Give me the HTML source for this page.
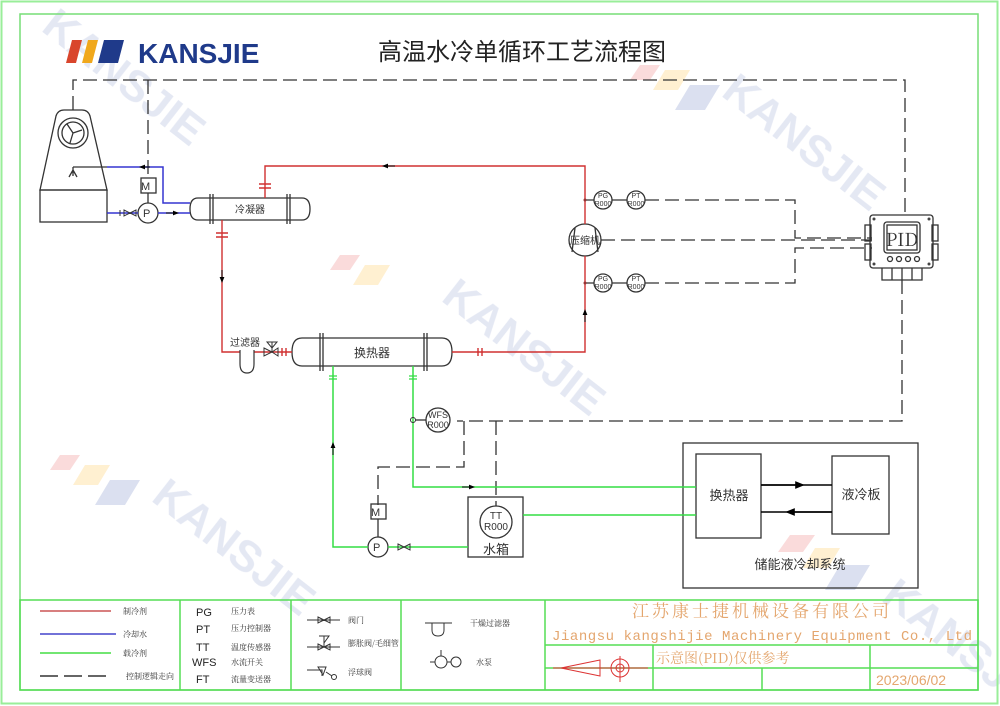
<!DOCTYPE html>
<html><head><meta charset="utf-8"><style>
html,body{margin:0;padding:0;background:#fff}
svg{display:block;font-family:"Liberation Sans","Noto Sans CJK SC",sans-serif}
.s{font-family:"Noto Serif CJK SC","Liberation Serif",serif}
</style></head><body>
<svg width="1000" height="706" viewBox="0 0 1000 706" xmlns="http://www.w3.org/2000/svg">
<defs>
<marker id="ah" viewBox="0 0 10 10" refX="5" refY="5" markerWidth="6" markerHeight="6" orient="auto"><path d="M0,1 L10,5 L0,9z" fill="#000"/></marker>
</defs>
<!-- watermarks -->
<g fill="#d3d9ec" font-size="44" font-weight="bold" opacity="0.6">
<text x="40" y="30" transform="rotate(38 40 30)">KANSJIE</text>
<text x="720" y="95" transform="rotate(38 720 95)">KANSJIE</text>
<text x="440" y="300" transform="rotate(38 440 300)">KANSJIE</text>
<text x="150" y="500" transform="rotate(38 150 500)">KANSJIE</text>
<text x="880" y="600" transform="rotate(38 880 600)">KANSJIE</text>
</g>
<g opacity="0.3">
<polygon points="640,65 660,65 650,80 630,80" fill="#e88"/><polygon points="665,70 690,70 678,90 653,90" fill="#fc6"/><polygon points="690,85 720,85 705,110 675,110" fill="#89c"/>
<polygon points="340,255 360,255 350,270 330,270" fill="#e88"/><polygon points="365,265 390,265 378,285 353,285" fill="#fc6"/>
<polygon points="60,455 80,455 70,470 50,470" fill="#e88"/><polygon points="85,465 110,465 98,485 73,485" fill="#fc6"/><polygon points="110,480 140,480 125,505 95,505" fill="#89c"/>
<polygon points="790,535 815,535 803,552 778,552" fill="#e88"/><polygon points="815,548 840,548 828,568 803,568" fill="#fc6"/><polygon points="840,565 870,565 855,590 825,590" fill="#89c"/>
</g>
<!-- frames -->
<rect x="1.5" y="1.5" width="996" height="702" fill="none" stroke="#9e9" stroke-width="2"/>
<rect x="20" y="14" width="958" height="676" fill="none" stroke="#7d7" stroke-width="1.5"/>
<!-- logo -->
<polygon points="72,40 82,40 76,63 66,63" fill="#d9452c"/>
<polygon points="88,40 98,40 92,63 82,63" fill="#f0a81c"/>
<polygon points="104,40 124,40 118,63 98,63" fill="#1f3a8a"/>
<text x="138" y="63" font-size="28" font-weight="bold" fill="#1f3a8a">KANSJIE</text>
<text x="378" y="60" font-size="24" fill="#222">高温水冷单循环工艺流程图</text>

<g fill="none" stroke="#333" stroke-width="1.3">
<!-- control dashed -->
<g stroke-dasharray="14,6">
<path d="M73,110 V80 H905 V215"/>
<path d="M148,80 V178"/>
<path d="M645,200 H795 V238 H872"/>
<path d="M601,240 H872"/>
<path d="M645,283 H795 V248 H872"/>
<path d="M902,280 V421 H457"/>
<path d="M464,421 V467 H378 V505"/>
<path d="M496,421 V506"/>
</g>
<!-- cooling tower -->
<path d="M40,190 L56,116 Q58,110 64,110 H82 Q88,110 90,116 L107,190 Z"/>
<rect x="40" y="190" width="67" height="32"/>
<circle cx="73" cy="133" r="15"/>
<circle cx="73" cy="133" r="11"/>
<path d="M73,133 L67,124 M73,133 L82,130 M73,133 L70,143"/>
<path d="M73,167 V176 M73,170 L69,177 M73,170 L77,177 M73,167 H107"/>
<!-- M and P -->
<rect x="141" y="178" width="15" height="15"/>
<path d="M148,193 V203"/>
<circle cx="148" cy="213" r="10"/>
<rect x="371" y="504" width="15" height="15"/>
<path d="M378,519 V537"/>
<circle cx="378" cy="547" r="10"/>
<!-- condenser -->
<path d="M198,198 H302 Q310,198 310,209 Q310,220 302,220 H198 Q190,220 190,209 Q190,198 198,198Z"/>
<path d="M210,194 V224 M213,194 V224 M287,194 V224 M290,194 V224"/>
<!-- heat exchanger -->
<path d="M302,338 H442 Q452,338 452,352 Q452,366 442,366 H302 Q292,366 292,352 Q292,338 302,338Z"/>
<path d="M320,333 V371 M323,333 V371 M424,333 V371 M427,333 V371"/>
<!-- compressor -->
<circle cx="585" cy="240" r="16"/>
<path d="M575,228 L572,252 M595,228 L598,252"/>
<!-- gauges -->
<circle cx="603" cy="200" r="9"/><circle cx="636" cy="200" r="9"/>
<circle cx="603" cy="283" r="9"/><circle cx="636" cy="283" r="9"/>
<path d="M585,200 H594 M612,200 H627 M585,283 H594 M612,283 H627"/>
<!-- PID -->
<rect x="870" y="215" width="63" height="53" rx="3"/>
<rect x="884" y="222" width="36" height="31" rx="3"/>
<rect x="887" y="225" width="30" height="25"/>
<rect x="865" y="225" width="6" height="16"/><rect x="865" y="244" width="6" height="16"/>
<rect x="932" y="225" width="6" height="16"/><rect x="932" y="244" width="6" height="16"/>
<path d="M882,268 V280 H922 V268 M892,268 V280 M902,268 V280 M912,268 V280"/>
<circle cx="890" cy="259" r="2.5"/><circle cx="899" cy="259" r="2.5"/><circle cx="908" cy="259" r="2.5"/><circle cx="917" cy="259" r="2.5"/>
<!-- WFS -->
<circle cx="438" cy="420" r="12"/>
<path d="M415,420 H426"/>
<!-- tank -->
<rect x="468" y="497" width="55" height="60"/>
<circle cx="496" cy="522" r="16"/>
<!-- storage -->
<rect x="683" y="443" width="235" height="145"/>
<rect x="696" y="454" width="65" height="84"/>
<rect x="832" y="456" width="57" height="78"/>
</g>
<g fill="#444"><circle cx="874" cy="219" r="1.5"/><circle cx="929" cy="219" r="1.5"/><circle cx="874" cy="264" r="1.5"/><circle cx="929" cy="264" r="1.5"/></g>
<g stroke="#000" stroke-width="1.6" fill="none">
<path d="M761,485 H832"/>
<path d="M761,485 H800" marker-end="url(#ah)"/>
<path d="M832,512 H761"/><path d="M832,512 H790" marker-end="url(#ah)"/>
</g>

<!-- blue pipes -->
<g stroke="#3535d0" stroke-width="1.5" fill="none">
<path d="M107,167 H163 V203 H190"/>
<path d="M107,213 H138 M158,213 H190"/>
</g>
<path d="M150,167 H142" stroke="#000" marker-end="url(#ah)"/>
<path d="M166,213 H176" stroke="#000" marker-end="url(#ah)"/>
<path d="M120,210 V216 M124,210 l6,3 l-6,3z M136,210 l-6,3 l6,3z" stroke="#333" fill="none"/>
<!-- red pipes -->
<g stroke="#d03030" stroke-width="1.4" fill="none">
<path d="M265,198 V166 H585 V224"/>
<path d="M222,220 V352 H240 M254,352 H292"/>
<path d="M452,352 H585 V256"/>
</g>
<g stroke="#d03030" stroke-width="1.4"><path d="M259,184 H271 M259,188 H271 M216,233 H228 M216,237 H228 M282,348 V356 M286,348 V356 M478,348 V356 M482,348 V356"/></g>
<path d="M395,166 H385" stroke="#000" marker-end="url(#ah)"/>
<path d="M222,270 V280" stroke="#000" marker-end="url(#ah)"/>
<path d="M585,322 V312" stroke="#000" marker-end="url(#ah)"/>
<!-- filter & exp valve -->
<path d="M240,350 V364 Q240,373 247,373 Q254,373 254,364 V350" stroke="#333" fill="none" stroke-width="1.2"/>
<path d="M264,348 L272,352 L264,356z M278,348 L272,352 L278,356z M272,352 V342 M267,342 H277 L272,348z" stroke="#333" fill="none"/>
<!-- green pipes -->
<g stroke="#33dd44" stroke-width="1.5" fill="none">
<path d="M333,366 V547 H368"/>
<path d="M388,547 H468"/>
<path d="M413,366 V487 H696"/>
<path d="M523,515 H696"/>
</g>
<g stroke="#33dd44" stroke-width="1.3"><path d="M329,376 H337 M329,379 H337 M409,376 H417 M409,379 H417"/></g>
<path d="M333,455 V445" stroke="#000" marker-end="url(#ah)"/>
<path d="M462,487 H472" stroke="#000" marker-end="url(#ah)"/>
<path d="M398,544 l6,3 l-6,3z M410,544 l-6,3 l6,3z" stroke="#333" fill="none"/>
<circle cx="413" cy="420" r="2.5" fill="none" stroke="#333"/>
<circle cx="585" cy="200" r="1.5" fill="#933"/><circle cx="585" cy="283" r="1.5" fill="#933"/>

<!-- labels -->
<g fill="#333">
<text x="141" y="190" font-size="11">M</text>
<text x="143" y="217" font-size="11">P</text>
<text x="371" y="516" font-size="11">M</text>
<text x="373" y="551" font-size="11">P</text>
<text x="250" y="213" font-size="10" text-anchor="middle">冷凝器</text>
<text x="372" y="357" font-size="12" text-anchor="middle">换热器</text>
<text x="245" y="346" font-size="10" text-anchor="middle">过滤器</text>
<text x="585" y="244" font-size="10" text-anchor="middle">压缩机</text>
<g font-size="7" text-anchor="middle">
<text x="603" y="198">PG</text><text x="603" y="206">R000</text>
<text x="636" y="198">PT</text><text x="636" y="206">R000</text>
<text x="603" y="281">PG</text><text x="603" y="289">R000</text>
<text x="636" y="281">PT</text><text x="636" y="289">R000</text>
</g>
<text x="902" y="246" font-size="18" class="s" text-anchor="middle">PID</text>
<text x="438" y="418" font-size="9" text-anchor="middle">WFS</text><text x="438" y="428" font-size="9" text-anchor="middle">R000</text>
<text x="496" y="519" font-size="10" text-anchor="middle">TT</text><text x="496" y="530" font-size="10" text-anchor="middle">R000</text>
<text x="496" y="554" font-size="13" text-anchor="middle">水箱</text>
<text x="729" y="500" font-size="13" text-anchor="middle">换热器</text>
<text x="861" y="499" font-size="13" text-anchor="middle">液冷板</text>
<text x="800" y="569" font-size="13" text-anchor="middle">储能液冷却系统</text>
</g>

<!-- legend -->
<g fill="none" stroke="#5d5" stroke-width="1.5">
<rect x="20" y="600" width="958" height="90"/>
<path d="M180,600 V690 M291,600 V690 M401,600 V690 M545,600 V690 M545,645 H978 M545,668 H978 M653,645 V690 M762,668 V690 M870,645 V690"/>
</g>
<path d="M40,611 H111" stroke="#c55" stroke-width="1.5"/>
<path d="M40,634 H116" stroke="#44c" stroke-width="1.5"/>
<path d="M40,653 H111" stroke="#4d4" stroke-width="1.5"/>
<path d="M40,676 H111" stroke="#333" stroke-width="1.5" stroke-dasharray="18,6"/>
<g fill="#333" font-size="8" class="s">
<text x="123" y="614">制冷剂</text><text x="123" y="637">冷却水</text><text x="123" y="656">载冷剂</text><text x="126" y="679">控制逻辑走向</text>
<text x="231" y="614">压力表</text><text x="231" y="631">压力控制器</text><text x="231" y="650">温度传感器</text><text x="231" y="665">水流开关</text><text x="231" y="682">流量变送器</text>
<text x="348" y="623">阀门</text><text x="348" y="646">膨胀阀/毛细管</text><text x="348" y="675">浮球阀</text>
<text x="470" y="626">干燥过滤器</text><text x="476" y="665">水泵</text>
</g>
<g fill="#222" font-size="11">
<text x="196" y="616">PG</text><text x="196" y="633">PT</text><text x="196" y="651">TT</text><text x="192" y="666">WFS</text><text x="196" y="683">FT</text>
</g>
<g stroke="#333" fill="none" stroke-width="1">
<path d="M307,620 H340 M318,617 l6,3 l-6,3z M330,617 l-6,3 l6,3z"/>
<path d="M307,647 H340 M318,644 l6,3 l-6,3z M330,644 l-6,3 l6,3z M324,647 V636 M319,636 H329 L324,643"/>
<path d="M307,670 H322 V676 M318,667 h8 l-3,8z M326,672 l6,4"/><circle cx="334" cy="677" r="2.5"/>
<path d="M425,623 H452 M432,623 V630 Q432,636 438,636 Q444,636 444,630 V623"/>
<path d="M430,662 H435 M447,662 H451 M441,650 V656"/><circle cx="441" cy="662" r="6"/><circle cx="456" cy="662" r="5"/>
</g>
<g fill="#e4a66e">
<text x="762" y="617" font-size="17" text-anchor="middle" class="s" letter-spacing="3">江苏康士捷机械设备有限公司</text>
<text x="552" y="640" font-size="14" font-family="Liberation Mono,monospace" textLength="420">Jiangsu kangshijie Machinery Equipment Co., Ltd</text>
<text x="656" y="663" font-size="14" class="s">示意图(PID)仅供参考</text>
<text x="876" y="685" font-size="14">2023/06/02</text>
</g>
<g stroke="#d33" fill="none" stroke-width="1">
<path d="M553,668 H648 M561,668 L600,660 V676 Z M620,656 V682"/>
<circle cx="620" cy="668" r="9"/><circle cx="620" cy="668" r="4"/>
</g>
</svg>
</body></html>
